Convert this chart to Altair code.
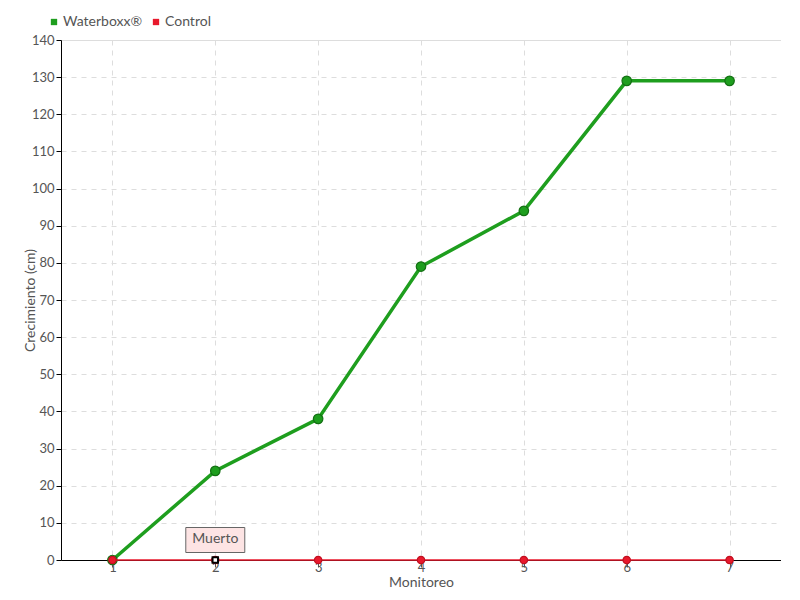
import altair as alt
import pandas as pd

monitoreo = [1, 2, 3, 4, 5, 6, 7]
waterboxx = [0, 24, 38, 79, 94, 129, 129]
control = [0, 0, 0, 0, 0, 0, 0]
series_names = ["Waterboxx®", "Control"]
series_colors = ["#1e9e1e", "#e8192c"]
y_ticks = [0, 10, 20, 30, 40, 50, 60, 70, 80, 90, 100, 110, 120, 130, 140]
note_x = [2]
note_y = [0]
note_text = ["Muerto"]

FONT = "Liberation Sans Narrow, Lato, sans-serif"

df_w = pd.DataFrame({"m": monitoreo, "v": waterboxx, "s": series_names[0]})
df_c = pd.DataFrame({"m": monitoreo, "v": control, "s": series_names[1]})
df = pd.concat([df_w, df_c], ignore_index=True)
notes = pd.DataFrame({"m": note_x, "v": note_y, "t": note_text})

xs = alt.Scale(type="point", domain=monitoreo, padding=0.5)
ys = alt.Scale(domain=[0, 140], nice=False)
cs = alt.Scale(domain=series_names, range=series_colors)

x_axis = alt.Axis(title="Monitoreo", labelAngle=0, grid=True,
                  gridDash=[5, 5], gridColor="#dddddd",
                  domainColor="#000000", tickColor="#555555",
                  tickSize=7, labelPadding=-6, titlePadding=1,
                  labelColor="#555555", titleColor="#555555",
                  labelFontSize=13, titleFontSize=14,
                  labelFont=FONT, titleFont=FONT, titleFontWeight="normal")
y_axis = alt.Axis(title="Crecimiento (cm)", values=y_ticks, tickCount=15,
                  labelOverlap=False,
                  grid=True, gridDash=[5, 5], gridColor="#dddddd",
                  domainColor="#000000", tickColor="#000000",
                  tickSize=5, labelPadding=2, titleX=-31, titleBaseline="middle",
                  labelColor="#555555", titleColor="#555555",
                  labelFontSize=13, titleFontSize=14,
                  labelFont=FONT, titleFont=FONT, titleFontWeight="normal")

xp = alt.X("m:O", scale=xs, sort=monitoreo, axis=x_axis)
yp = alt.Y("v:Q", scale=ys, axis=y_axis)

legend_layer = alt.Chart(df).mark_point(opacity=0, size=1).encode(
    x=xp, y=yp,
    color=alt.Color("s:N", scale=cs, sort=series_names,
                    legend=alt.Legend(title=None, orient="none", legendX=-14, legendY=-25,
                                      direction="horizontal", symbolType="square",
                                      symbolSize=40, labelFont=FONT, labelFontSize=14,
                                      labelColor="#555555", columnPadding=6,
                                      symbolOpacity=1,
                                      symbolStrokeWidth=0, labelOffset=2)),
)

line_w = alt.Chart(df_w).mark_line(strokeWidth=3.5).encode(
    x=xp, y=yp, color=alt.Color("s:N", scale=cs, legend=None))
line_c = alt.Chart(df_c).mark_line(strokeWidth=1.5).encode(
    x=xp, y=yp, color=alt.Color("s:N", scale=cs, legend=None))
pts_w = alt.Chart(df_w).mark_point(filled=True, opacity=1, size=90, stroke="#137013", strokeWidth=1.2).encode(
    x=xp, y=yp, color=alt.Color("s:N", scale=cs, legend=None))
pts_c = alt.Chart(df_c).mark_point(filled=True, opacity=1, size=55, stroke="#c01020", strokeWidth=1.2).encode(
    x=xp, y=yp, color=alt.Color("s:N", scale=cs, legend=None))

box_rect = alt.Chart(notes).mark_rect(fill="#fde4e4", stroke="#666666", strokeWidth=1,
                                       width=59, height=25, yOffset=-20).encode(x=xp, y=yp)
marker = alt.Chart(notes).mark_square(size=30, filled=True, color="white", stroke="#000000",
                                      strokeWidth=2, opacity=1).encode(x=xp, y=yp)
label = alt.Chart(notes).mark_text(font=FONT, fontSize=14, color="#555555", dy=-21).encode(
    x=xp, y=yp, text="t:N")

chart = alt.layer(legend_layer, line_w, pts_w, line_c, pts_c, box_rect, marker, label).properties(
    width=720, height=520,
    autosize=alt.AutoSizeParams(type="none"),
    padding={"left": 53, "top": 32, "right": 0, "bottom": 40},
).configure_view(stroke=None).configure(font=FONT)

chart.save("out.html", embed_options={"renderer": "svg", "actions": False})
